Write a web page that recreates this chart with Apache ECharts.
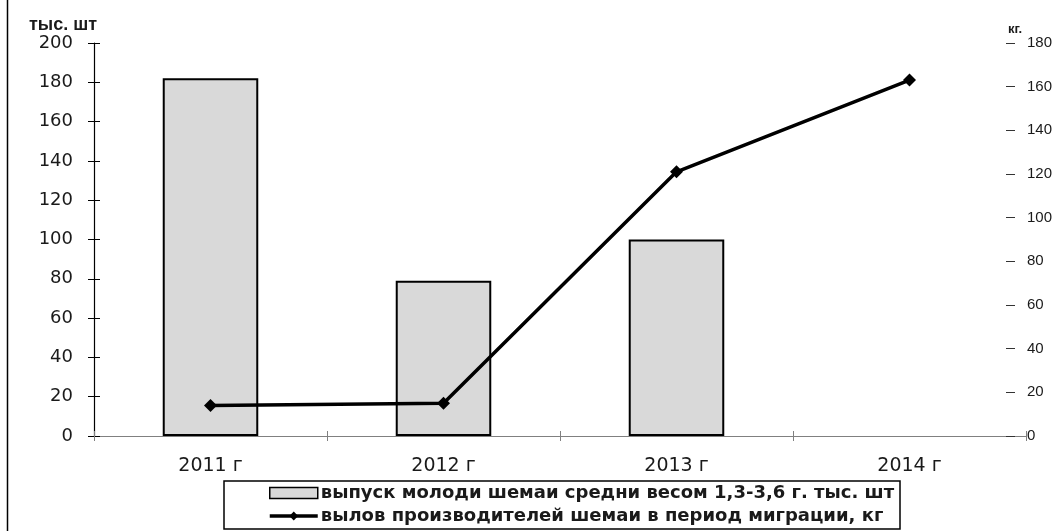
<!DOCTYPE html>
<html>
<head>
<meta charset="utf-8">
<script src="https://cdn.jsdelivr.net/npm/echarts@6/dist/echarts.min.js"></script>
<style>
  html, body { margin: 0; padding: 0; background: #fff; }
  #chart { width: 1057px; height: 531px; }
</style>
</head>
<body>
<div id="chart"></div>
<script>
// Годы наблюдений
const years = ['2011 г', '2012 г', '2013 г', '2014 г'];
// Выпуск молоди шемаи, тыс. шт (в 2014 г. выпуска нет)
const releaseThousands = [182, 79, 100, null];
// Вылов производителей шемаи в период миграции, кг
const catchKg = [14, 15, 121, 163];
// Шкалы осей
const leftTicks = { min: 0, max: 200, interval: 20 };
const rightTicks = { min: 0, max: 180, interval: 20 };

const seriesNames = [
  'выпуск молоди шемаи средни весом 1,3-3,6 г. тыс. шт',
  'вылов производителей шемаи в период миграции, кг'
];

const chart = echarts.init(document.getElementById('chart'));

const baseFont = 'DejaVu Sans, Liberation Sans, Arial, sans-serif';
const narrowFont = 'Liberation Sans, Arial, sans-serif';

chart.setOption({
  animation: false,
  backgroundColor: '#ffffff',
  grid: { left: 94, right: 31, top: 43, bottom: 95 },
  xAxis: [
    {
      type: 'category',
      data: years,
      boundaryGap: true,
      axisLine: { show: true, lineStyle: { color: '#808080', width: 1 } },
      axisTick: { show: true, alignWithLabel: false, inside: false, length: 5, lineStyle: { color: '#808080' } },
      axisLabel: { color: '#1a1a1a', fontSize: 19, fontFamily: baseFont, margin: 21 },
      splitLine: { show: false }
    },
    {
      // второй слой делений, направленных внутрь
      type: 'category',
      data: years,
      position: 'bottom',
      boundaryGap: true,
      axisLine: { show: false },
      axisTick: { show: true, inside: true, length: 5, lineStyle: { color: '#808080' } },
      axisLabel: { show: false },
      splitLine: { show: false }
    }
  ],
  yAxis: [
    {
      type: 'value',
      position: 'left',
      min: leftTicks.min, max: leftTicks.max, interval: leftTicks.interval,
      name: 'тыс. шт',
      nameLocation: 'end',
      nameGap: 6,
      nameTextStyle: { color: '#1a1a1a', fontSize: 18, fontWeight: 'bold', fontFamily: narrowFont, align: 'right', padding: [0, -3, 0, 0] },
      axisLine: { show: true, lineStyle: { color: '#000', width: 1.2 } },
      axisTick: { show: true, inside: false, length: 6, lineStyle: { color: '#000' } },
      axisLabel: { color: '#1a1a1a', fontSize: 18, fontFamily: baseFont, margin: 21 },
      splitLine: { show: false }
    },
    {
      type: 'value',
      position: 'right',
      offset: -11,
      min: rightTicks.min, max: rightTicks.max, interval: rightTicks.interval,
      name: 'кг.',
      nameLocation: 'end',
      nameGap: 6,
      nameTextStyle: { color: '#1a1a1a', fontSize: 13, fontWeight: 'bold', fontFamily: narrowFont },
      axisLine: { show: false },
      axisTick: { show: true, inside: true, length: 9, lineStyle: { color: '#333' } },
      axisLabel: { color: '#1a1a1a', fontSize: 15, fontFamily: narrowFont, margin: 12 },
      splitLine: { show: false }
    },
    {
      // внутренние деления левой оси
      type: 'value',
      position: 'left',
      min: leftTicks.min, max: leftTicks.max, interval: leftTicks.interval,
      axisLine: { show: false },
      axisTick: { show: true, inside: true, length: 6, lineStyle: { color: '#000' } },
      axisLabel: { show: false },
      splitLine: { show: false }
    }
  ],
  legend: {
    orient: 'vertical',
    left: 268,
    top: 484,
    itemGap: 5,
    itemWidth: 48,
    itemHeight: 11,
    padding: 0,
    textStyle: { color: '#1a1a1a', fontSize: 18, fontWeight: 'bold', fontFamily: baseFont, padding: [0, 0, 0, -2] },
    data: [
      { name: seriesNames[0], icon: 'rect', itemStyle: { color: '#d9d9d9', borderColor: '#000', borderWidth: 1.5 } },
      { name: seriesNames[1], lineStyle: { color: '#000', width: 3.5 } }
    ]
  },
  graphic: [
    {
      type: 'rect',
      shape: { x: 224, y: 481, width: 676, height: 48 },
      style: { fill: 'none', stroke: '#000', lineWidth: 1.5 },
      silent: true
    },
    {
      type: 'line',
      shape: { x1: 7.5, y1: 0, x2: 7.5, y2: 531 },
      style: { stroke: '#000', lineWidth: 1.5 },
      silent: true
    }
  ],
  series: [
    {
      name: seriesNames[0],
      type: 'bar',
      xAxisIndex: 0,
      yAxisIndex: 0,
      data: releaseThousands,
      barWidth: '41%',
      itemStyle: { color: '#d9d9d9', borderColor: '#000', borderWidth: 2 },
      z: 2
    },
    {
      name: seriesNames[1],
      type: 'line',
      xAxisIndex: 0,
      yAxisIndex: 1,
      data: catchKg,
      symbol: 'diamond',
      symbolSize: 13,
      lineStyle: { color: '#000', width: 3.5 },
      itemStyle: { color: '#000' },
      z: 3
    }
  ]
});
</script>
</body>
</html>
